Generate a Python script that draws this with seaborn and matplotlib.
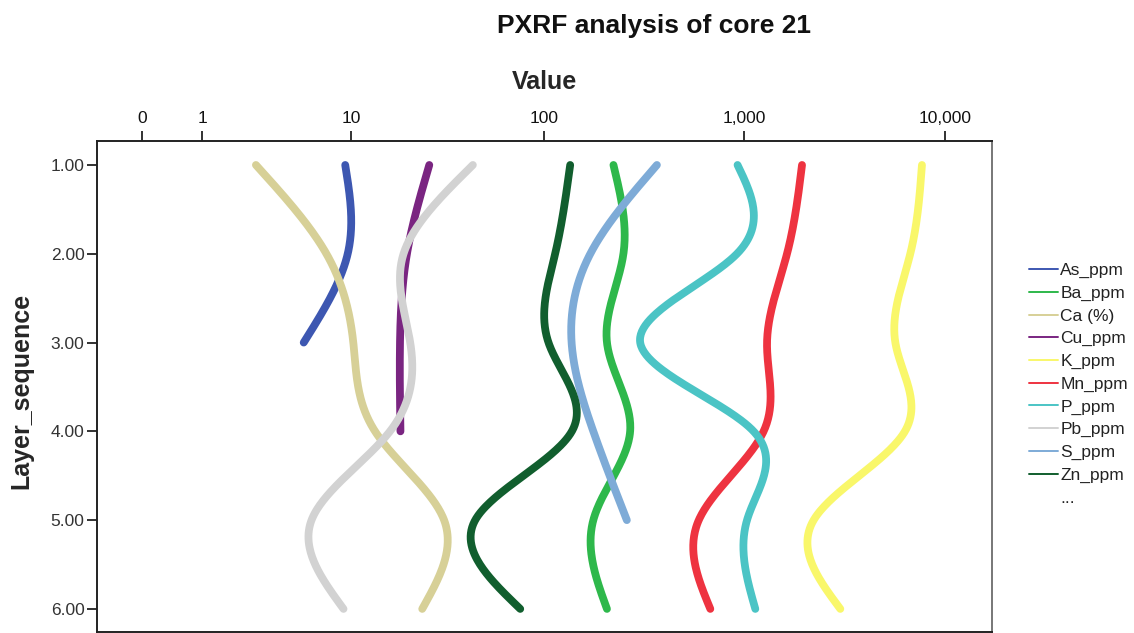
import numpy as np
import pandas as pd
import matplotlib
matplotlib.use("Agg")
import matplotlib.pyplot as plt
from matplotlib.lines import Line2D
import seaborn as sns

# ---------------- data ----------------
layers = [1, 2, 3, 4, 5, 6]
elements = ["As_ppm", "Ba_ppm", "Ca (%)", "Cu_ppm", "K_ppm",
            "Mn_ppm", "P_ppm", "Pb_ppm", "S_ppm", "Zn_ppm"]
as_ppm = [9.3, 9.6, 5.4]
ba_ppm = [222, 249, 206, 269, 176, 206]
ca_pct = [2.7, 7.3, 10.3, 13.5, 31.0, 23.9]
cu_ppm = [26.0, 19.9, 18.3, 18.4]
k_ppm = [7660, 6700, 5645, 6300, 2212, 3004]
mn_ppm = [1936, 1630, 1296, 1246, 592, 676]
p_ppm = [924, 918, 302, 1111, 1030, 1133]
pb_ppm = [43.5, 19.1, 20.7, 16.2, 6.0, 9.1]
s_ppm = [366, 170, 137, 176, 259]
zn_ppm = [134.8, 113.3, 104.9, 137.4, 44.7, 75.6]
series = [as_ppm, ba_ppm, ca_pct, cu_ppm, k_ppm, mn_ppm, p_ppm, pb_ppm, s_ppm, zn_ppm]
colors = ["#3d57b1", "#2eb84b", "#d7d097", "#7a2581", "#f9f76a",
          "#ee3340", "#4bc4c5", "#d2d2d2", "#7eabd7", "#115e2e"]
xticks = [0, 1, 10, 100, 1000, 10000]
xtick_labels = ["0", "1", "10", "100", "1,000", "10,000"]
yticks = [1, 2, 3, 4, 5, 6]


def fwd(v):
    return np.log10(np.asarray(v, dtype=float) + 1.0)


def inv(t):
    return 10.0 ** np.asarray(t, dtype=float) - 1.0


def natural_spline(x, y, xs):
    x = np.asarray(x, float); y = np.asarray(y, float)
    n = len(x)
    if n < 3:
        return np.interp(xs, x, y)
    h = np.diff(x)
    A = np.zeros((n, n)); b = np.zeros(n)
    A[0, 0] = 1; A[-1, -1] = 1
    for i in range(1, n - 1):
        A[i, i - 1] = h[i - 1]
        A[i, i] = 2 * (h[i - 1] + h[i])
        A[i, i + 1] = h[i]
        b[i] = 3 * ((y[i + 1] - y[i]) / h[i] - (y[i] - y[i - 1]) / h[i - 1])
    c = np.linalg.solve(A, b)
    out = np.empty_like(xs)
    for k, xv in enumerate(xs):
        i = min(np.searchsorted(x, xv, side="right") - 1, n - 2)
        i = max(i, 0)
        dx = xv - x[i]
        bb = (y[i + 1] - y[i]) / h[i] - h[i] * (2 * c[i] + c[i + 1]) / 3
        d = (c[i + 1] - c[i]) / (3 * h[i])
        out[k] = y[i] + bb * dx + c[i] * dx ** 2 + d * dx ** 3
    return out


rows = []
for name, vals in zip(elements, series):
    lay = layers[:len(vals)]
    ys = np.linspace(lay[0], lay[-1], 300)
    xs_t = natural_spline(lay, fwd(vals), ys)
    for yy, xx in zip(ys, inv(xs_t)):
        rows.append({"Element": name, "Layer": yy, "Value": xx})
df = pd.DataFrame(rows)

# ---------------- plotting ----------------
sns.set_theme(style="white")
plt.rcParams["font.family"] = ["Liberation Sans", "DejaVu Sans"]

W, H = 1134, 633
fig = plt.figure(figsize=(11.34, 6.33), dpi=100)
ax = fig.add_axes([97 / W, 1 - 632 / H, (992 - 97) / W, (632 - 141) / H])
ax.set_xscale("function", functions=(fwd, inv))

palette = dict(zip(elements, colors))
sns.lineplot(data=df, x="Value", y="Layer", hue="Element", palette=palette,
             sort=False, estimator=None, legend=False, ax=ax,
             linewidth=5.6, solid_capstyle="round")

ax.set_xlim(inv(-0.223), inv(4.233))
ax.set_ylim(6.26, 0.73)
ax.set_xticks(xticks)
ax.set_xticklabels(xtick_labels)
ax.set_yticks(yticks)
ax.set_yticklabels([f"{v:.2f}" for v in yticks])
ax.xaxis.tick_top()
ax.xaxis.set_label_position("top")
ax.tick_params(axis="x", which="both", top=True, bottom=False, direction="out",
               length=7.5, width=1.3, color="#222222", labelsize=12.5,
               labelcolor="#111111", pad=3)
ax.tick_params(axis="y", left=True, direction="out", length=7.5, width=1.3,
               color="#222222", labelsize=12.5, labelcolor="#333333", pad=1.5)
ax.minorticks_off()
ax.set_xlabel("Value", fontsize=18, fontweight="bold")
ax.xaxis.set_label_coords(0.5, 1 + (141 - 89) / 491)
ax.set_ylabel("Layer_sequence", fontsize=18, fontweight="bold")
ax.yaxis.set_label_coords((33 - 97) / 895, 0.49)
for side in ["left", "right", "top", "bottom"]:
    ax.spines[side].set_color("#222222")
    ax.spines[side].set_linewidth(1.4)
    ax.spines[side].set_visible(True)
ax.spines["right"].set_color("#777777")
ax.grid(False)

fig.text(654 / W, 1 - 33 / H, "PXRF analysis of core 21", ha="center",
         va="baseline", fontsize=19, fontweight="bold", color="#111111")

handles = [Line2D([0], [0], color=c, lw=1.4) for c in colors]
labels = list(elements)
handles.append(Line2D([0], [0], color="none", lw=0))
labels.append("...")
leg = fig.legend(handles, labels, loc="upper left",
                 bbox_to_anchor=(1029 / W, 1 - 263 / H), frameon=False,
                 fontsize=12.5, handlelength=1.65, handletextpad=0.15,
                 labelspacing=0.43, borderaxespad=0, borderpad=0)
for t in leg.get_texts():
    t.set_color("#222222")

fig.savefig("out.png", dpi=100)
